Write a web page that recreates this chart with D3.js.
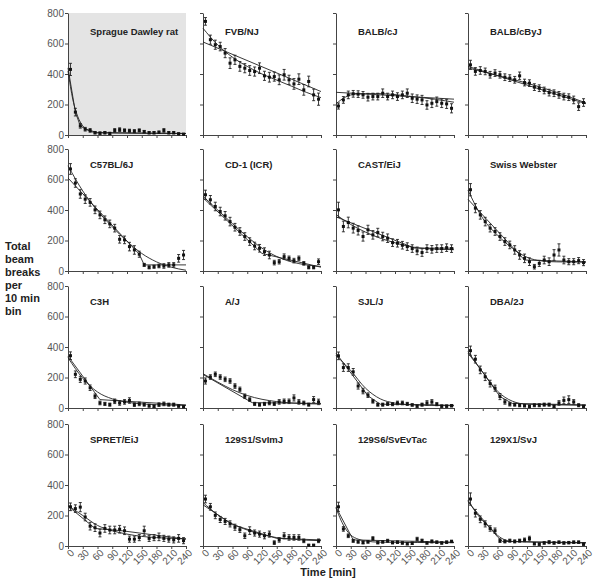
<!DOCTYPE html>
<html><head><meta charset="utf-8">
<script src="https://cdn.jsdelivr.net/npm/d3@7"></script>
<style>body{margin:0;background:#fff}svg{display:block}</style>
</head><body><svg id="c" width="600" height="584"></svg>
<script>
const strains = ["Sprague Dawley rat","FVB/NJ","BALB/cJ","BALB/cByJ","C57BL/6J","CD-1 (ICR)","CAST/EiJ","Swiss Webster","C3H","A/J","SJL/J","DBA/2J","SPRET/EiJ","129S1/SvImJ","129S6/SvEvTac","129X1/SvJ"];
const times = [5,15,25,35,45,55,65,75,85,95,105,115,125,135,145,155,165,175,185,195,205,215,225,235];
const xTicks = [0,30,60,90,120,150,180,210,240];
const yTicks = [0,200,400,600,800];
const yLabelLines = ["Total","beam","breaks","per","10 min","bin"];
const xLabel = "Time [min]";

const means = [
 [430,150,60,38,30,15,12,15,10,30,35,30,28,25,30,22,15,15,18,30,15,15,8,5],
 [745,625,592,580,537,471,493,450,438,423,416,438,388,379,383,362,395,362,335,366,296,351,263,235],
 [190,230,263,270,268,263,248,252,252,274,252,263,252,263,274,241,235,230,197,208,219,208,204,175],
 [460,417,423,417,395,406,395,379,373,362,388,344,340,314,307,292,278,274,263,252,248,230,186,213],
 [669,577,505,471,450,401,368,336,309,281,208,204,160,138,110,40,24,28,33,33,40,40,83,105],
 [500,467,423,390,362,324,287,259,226,193,164,149,127,105,55,61,94,83,68,83,50,24,24,61],
 [401,292,318,281,266,226,270,237,252,226,215,186,182,169,160,147,132,121,147,142,147,147,153,147],
 [533,412,368,324,281,259,226,193,171,138,105,83,61,28,50,72,61,105,138,72,61,61,68,55],
 [343,221,188,177,133,77,33,27,22,44,33,40,49,22,27,22,15,11,22,27,22,22,13,9],
 [177,203,221,203,188,177,144,122,77,55,27,22,27,33,27,40,44,44,66,40,33,22,55,40],
 [342,265,265,237,144,111,84,44,22,22,27,25,33,33,27,20,12,22,33,40,25,12,12,15],
 [376,320,250,205,160,130,75,40,25,22,18,15,11,18,18,22,22,11,33,50,55,40,18,11],
 [257,245,255,190,130,120,85,115,105,105,110,100,45,45,55,100,50,55,60,50,45,40,50,35],
 [308,257,201,174,161,145,123,107,67,101,85,78,67,78,22,40,67,56,56,56,34,5,5,34],
 [257,112,67,34,27,22,27,49,22,27,34,22,25,20,15,18,45,35,20,30,25,20,25,30],
 [308,215,175,145,115,100,35,30,35,30,35,40,49,15,12,20,25,20,25,20,22,25,25,12]
];
const errs = [
 [40,25,15,12,12,8,8,8,8,12,12,10,10,10,10,8,8,8,8,12,8,8,6,6],
 [25,30,30,28,30,35,30,32,30,32,30,35,30,32,30,32,35,30,35,35,35,35,38,40],
 [20,22,25,22,22,22,25,22,22,28,22,25,25,25,28,28,28,30,28,28,30,28,30,30],
 [30,25,25,22,22,22,22,22,22,22,25,22,22,22,22,22,22,22,22,22,22,25,25,25],
 [35,28,28,28,25,25,25,25,25,25,25,25,28,28,20,10,10,10,12,15,15,15,25,30],
 [30,28,28,28,28,28,25,25,25,25,25,25,25,25,15,15,18,15,15,15,12,10,10,18],
 [50,35,35,32,30,30,30,28,28,28,28,25,25,25,25,25,25,25,25,25,25,25,25,25],
 [40,30,28,28,25,25,25,25,25,28,28,28,25,15,20,25,25,35,40,25,20,20,20,20],
 [25,22,20,20,18,15,12,10,10,15,15,15,18,12,12,10,10,8,12,12,10,10,8,8],
 [20,15,15,15,15,15,15,15,15,12,10,10,10,12,10,15,15,15,20,15,12,10,20,18],
 [25,25,25,22,20,18,15,12,10,10,10,10,12,12,10,8,8,10,15,15,10,8,8,8],
 [30,25,25,25,22,20,20,15,12,10,10,8,8,10,10,10,10,8,15,22,25,15,10,8],
 [25,25,30,25,25,25,25,25,25,25,25,25,20,20,20,30,20,20,25,20,20,20,25,20],
 [25,22,22,20,20,20,20,18,18,25,20,20,20,20,12,15,20,18,18,18,12,6,6,12],
 [30,15,12,10,8,8,8,12,8,8,10,8,8,8,8,8,12,10,8,10,8,8,8,8],
 [40,25,22,20,18,18,12,10,10,10,10,12,15,8,8,8,10,8,8,8,8,8,8,8]
];
const fitCurves = [
 [[0,420],[10,230],[20,120],[30,60],[45,25],[60,15],[240,10]],
 [[0,700],[30,590],[60,510],[90,450],[120,400],[150,360],[180,320],[210,280],[240,245]],
 [[0,205],[20,250],[40,268],[80,272],[120,265],[160,250],[200,235],[240,215]],
 [[0,440],[60,390],[120,340],[180,280],[240,210]],
 [[0,690],[30,525],[60,395],[90,290],[120,195],[150,115],[180,60],[210,25],[240,5]],
 [[0,490],[30,400],[60,310],[90,225],[120,150],[150,95],[180,60],[210,40],[240,30]],
 [[0,370],[30,305],[60,255],[90,215],[120,185],[150,160],[180,148],[210,142],[240,140]],
 [[0,530],[30,345],[60,235],[90,150],[120,90],[150,66],[180,60],[240,58]],
 [[0,330],[30,195],[60,105],[90,60],[120,38],[150,27],[180,22],[240,17]],
 [[0,225],[30,170],[60,120],[90,82],[120,57],[150,42],[180,33],[210,28],[240,26]],
 [[0,345],[30,245],[60,130],[90,60],[120,32],[150,22],[240,15]],
 [[0,360],[30,235],[60,110],[90,45],[120,25],[240,18]],
 [[0,265],[30,200],[60,135],[90,100],[120,78],[150,63],[180,55],[210,50],[240,47]],
 [[0,285],[30,205],[60,145],[90,105],[120,75],[150,55],[180,45],[210,38],[240,35]],
 [[0,250],[10,170],[20,110],[30,72],[45,45],[60,33],[90,25],[240,22]],
 [[0,300],[15,225],[30,165],[45,120],[60,70],[75,40],[90,30],[240,20]]
];
const fitLines = [
 [[0,440],[15,150],[25,60],[35,40],[60,15],[240,10]],
 [[0,610],[240,285]],
 [[0,280],[240,235]],
 [[0,450],[240,205]],
 [[0,610],[145,110],[155,40],[240,40]],
 [[0,480],[120,115],[240,25]],
 [[0,355],[160,150],[240,150]],
 [[0,470],[115,72],[240,60]],
 [[0,340],[65,55],[240,20]],
 [[0,220],[100,35],[240,30]],
 [[0,360],[65,80],[90,25],[240,18]],
 [[0,370],[65,75],[90,30],[240,20]],
 [[0,262],[55,115],[110,100],[240,45]],
 [[0,270],[60,140],[150,50],[240,40]],
 [[0,255],[35,40],[240,25]],
 [[0,290],[60,60],[70,30],[240,22]]
];

const colX = [68,203,336,468], rowY = [13,149,286,424], W = 118, H = 122;
const titleDy = [21.5,19,19,18.5];
const x = d3.scaleLinear().domain([0,240]).range([0,W]);
const y = d3.scaleLinear().domain([0,800]).range([H,0]);
const svg = d3.select("#c");
const font = "'Liberation Sans', Arial, Helvetica, sans-serif";

strains.forEach((name,i)=>{
  const r = Math.floor(i/4), c = i%4;
  const g = svg.append("g").attr("transform",`translate(${colX[c]},${rowY[r]})`);
  if(i===0) g.append("rect").attr("x",0).attr("y",0).attr("width",W).attr("height",H).attr("fill","#e4e4e4");
  const ya = d3.axisLeft(y).tickValues(yTicks).tickSize(3).tickSizeOuter(0).tickPadding(1)
     .tickFormat(c===0 ? d3.format("d") : "");
  const yg = g.append("g").call(ya);
  const xa = d3.axisBottom(x).tickValues(xTicks).tickSize(3).tickSizeOuter(0)
     .tickFormat(r===3 ? d3.format("d") : "");
  const xg = g.append("g").attr("transform",`translate(0,${H})`).call(xa);
  [yg,xg].forEach(a=>{
    a.selectAll("path,line").attr("stroke","#444").attr("stroke-width",1);
    a.selectAll("text").attr("fill","#555").attr("font-size",10).attr("font-family",font);
  });
  if(r===3){
    xg.selectAll("text").attr("text-anchor","end").attr("dy","0.35em")
      .attr("transform","translate(4,5) rotate(-45)").attr("y",0).attr("x",0);
  }
  g.append("path").datum(fitCurves[i]).attr("fill","none").attr("stroke","#222").attr("stroke-width",0.9)
    .attr("d",d3.line().x(d=>x(d[0])).y(d=>y(d[1])).curve(d3.curveMonotoneX));
  g.append("path").datum(fitLines[i]).attr("fill","none").attr("stroke","#222").attr("stroke-width",0.9)
    .attr("d",d3.line().x(d=>x(d[0])).y(d=>y(d[1])));
  const pts = times.map((t,k)=>({t,m:means[i][k],e:errs[i][k]}));
  const pg = g.append("g").selectAll("g").data(pts).join("g");
  pg.append("line").attr("x1",d=>x(d.t)).attr("x2",d=>x(d.t))
    .attr("y1",d=>y(d.m+d.e)).attr("y2",d=>y(Math.max(0,d.m-d.e))).attr("stroke","#222").attr("stroke-width",0.9);
  pg.append("line").attr("x1",d=>x(d.t)-1.5).attr("x2",d=>x(d.t)+1.5)
    .attr("y1",d=>y(d.m+d.e)).attr("y2",d=>y(d.m+d.e)).attr("stroke","#222").attr("stroke-width",0.9);
  pg.append("line").attr("x1",d=>x(d.t)-1.5).attr("x2",d=>x(d.t)+1.5)
    .attr("y1",d=>y(Math.max(0,d.m-d.e))).attr("y2",d=>y(Math.max(0,d.m-d.e))).attr("stroke","#222").attr("stroke-width",0.9);
  pg.append("rect").attr("x",d=>x(d.t)-1.5).attr("y",d=>y(d.m)-1.5).attr("width",3).attr("height",3).attr("fill","#111");
  g.append("text").attr("x",22).attr("y",titleDy[r]).attr("text-anchor","start")
    .attr("font-family",font).attr("font-weight","bold").attr("font-size",9.5).attr("fill","#222").text(name);
});

svg.append("g").selectAll("text").data(yLabelLines).join("text")
  .attr("x",5).attr("y",(d,k)=>250+k*13).attr("font-family",font).attr("font-weight","bold")
  .attr("font-size",11).attr("fill","#222").text(d=>d);
svg.append("text").attr("x",328).attr("y",576).attr("text-anchor","middle").attr("font-family",font)
  .attr("font-weight","bold").attr("font-size",11).attr("fill","#222").text(xLabel);
</script></body></html>
